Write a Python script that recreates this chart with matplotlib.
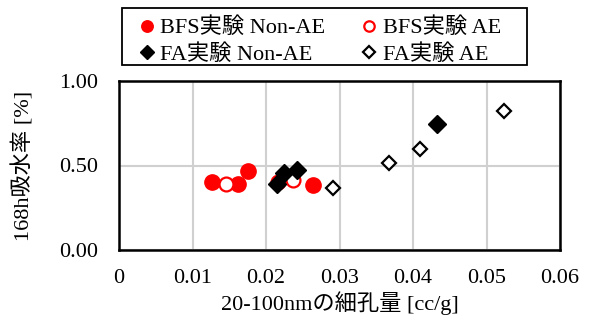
import matplotlib
matplotlib.use("Agg")
import matplotlib.pyplot as plt
from matplotlib.patches import Rectangle

plt.rcParams['font.family'] = ['Liberation Serif', 'Noto Sans CJK JP', 'DejaVu Sans']

bfs_nonae_x = [0.0127, 0.0162, 0.0175, 0.0264]
bfs_nonae_y = [0.40, 0.39, 0.465, 0.385]
bfs_ae_x = [0.0145, 0.0217, 0.0237]
bfs_ae_y = [0.39, 0.40, 0.415]
fa_nonae_x = [0.0215, 0.0224, 0.0242, 0.0432]
fa_nonae_y = [0.39, 0.455, 0.475, 0.745]
fa_ae_x = [0.0291, 0.0368, 0.0409, 0.0524]
fa_ae_y = [0.365, 0.515, 0.60, 0.825]

labels = ['BFS実験 Non-AE', 'BFS実験 AE', 'FA実験 Non-AE', 'FA実験 AE']
xticks = [0, 0.01, 0.02, 0.03, 0.04, 0.05, 0.06]
xticklabels = ['0', '0.01', '0.02', '0.03', '0.04', '0.05', '0.06']
yticks = [0.0, 0.5, 1.0]
yticklabels = ['0.00', '0.50', '1.00']

W, H = 589, 320
fig = plt.figure(figsize=(W/100, H/100), dpi=100)
ax = fig.add_axes([119/W, 1-250/H, (560-119)/W, (250-81)/H])

h1, = ax.plot(bfs_nonae_x, bfs_nonae_y, 'o', ms=11, color='#ff0000', mec='#ff0000', ls='none', zorder=3)
h2, = ax.plot(bfs_ae_x, bfs_ae_y, 'o', ms=10, mfc='white', mec='#ff0000', mew=1.6, ls='none', zorder=3)
h3, = ax.plot(fa_nonae_x, fa_nonae_y, 'D', ms=9, color='black', ls='none', zorder=4)
h4, = ax.plot(fa_ae_x, fa_ae_y, 'D', ms=7.5, mfc='white', mec='black', mew=1.6, ls='none', zorder=4)

ax.set_xlim(0, 0.06)
ax.set_ylim(0, 1.0)
ax.set_xticks(xticks)
ax.set_xticklabels(xticklabels)
ax.set_yticks(yticks)
ax.set_yticklabels(yticklabels)
ax.tick_params(length=0, labelsize=16)
ax.tick_params(axis='y', pad=15)
ax.tick_params(axis='x', pad=14)
ax.grid(True, color='#d0d0d0', lw=1.5)
ax.set_axisbelow(True)
for s in ax.spines.values():
    s.set_linewidth(1.8)
    s.set_color('black')

ax.set_xlabel('20-100nmの細孔量 [cc/g]', fontsize=16, labelpad=2)
ax.set_ylabel('168h吸水率 [%]', fontsize=16, labelpad=18)

handles = [h1, h3, h2, h4]
leg_labels = [labels[0], labels[2], labels[1], labels[3]]
leg = fig.legend(handles, leg_labels, ncol=2, loc='upper left',
                 bbox_to_anchor=(131/W, 1-11/H), fontsize=16,
                 frameon=False,
                 handlelength=0.8, handletextpad=0.2, columnspacing=1.6,
                 borderpad=0.3, labelspacing=0.25, markerscale=0.75,
                 borderaxespad=0)
fig.patches.append(Rectangle((122/W, 1-65/H), (527-122)/W, (65-8)/H,
                             transform=fig.transFigure, fill=False,
                             edgecolor='black', lw=1.3))

fig.savefig('out.png', dpi=100)
